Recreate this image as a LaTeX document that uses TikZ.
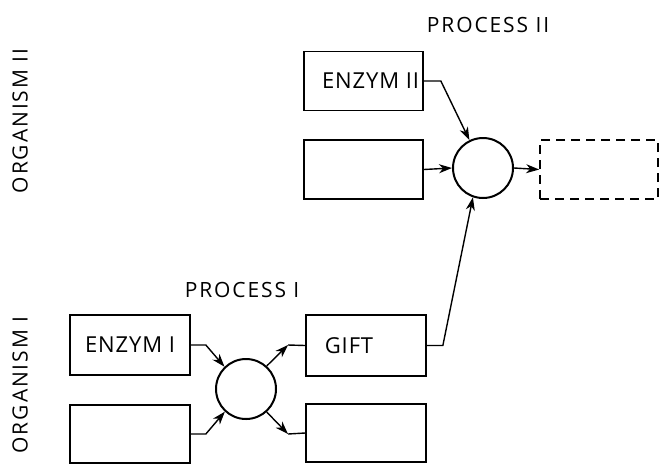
\documentclass[tikz,border=0pt]{standalone}
\usepackage{fontspec}
\setsansfont{Open Sans}
\newfontfamily\widefnt[LetterSpace=9]{Open Sans}
\newfontfamily\midfnt[LetterSpace=4]{Open Sans}
\usetikzlibrary{arrows.meta}
\begin{document}
\begin{tikzpicture}[x=1pt,y=-1pt,
  every node/.style={font=\midfnt\fontsize{22}{24}\selectfont},
  box/.style={draw,line width=1.7pt,inner sep=0pt,minimum width=119pt,minimum height=59pt},
  dbox/.style={box,dashed,dash pattern=on 9pt off 6pt},
  rxn/.style={draw,circle,line width=2pt,inner sep=0pt,minimum size=60pt},
  arr/.style={line width=1.4pt,-{Stealth[length=13pt,width=9pt,inset=4pt]}},
  ln/.style={line width=1.4pt},
  lbl/.style={font=\widefnt\fontsize{21}{23}\selectfont}]
\useasboundingbox (0,0) rectangle (660,464);
% labels
\node[lbl] (p2) at (488,25) {PROCESS II};
\node[lbl] (p1) at (242,290) {PROCESS I};
\node[lbl,rotate=90] (o2) at (20,121) {ORGANISM II};
\node[lbl,rotate=90] (o1) at (20,385) {ORGANISM I};
% process II
\node[box] (e2) at (363.5,81) {\hspace*{14pt}ENZYM II};
\node[box] (b2) at (363.5,169.5) {};
\node[rxn] (c2) at (483,168) {};
\node[dbox,minimum width=118pt] (d2) at (599,169.5) {};
% process I
\node[box,minimum width=120pt,minimum height=60pt] (e1) at (130,345) {ENZYM I};
\node[box,minimum width=120pt,minimum height=58pt] (b1) at (130,434) {};
\node[rxn] (c1) at (246,389) {};
\node[box,minimum width=120pt,minimum height=61pt] (g) at (366,345.5) {\hspace*{-34pt}GIFT};
\node[box,minimum width=120pt,minimum height=58pt] (b3) at (366,433) {};
% corner points
\coordinate (k1) at (288,345);
\coordinate (k2) at (288,434);
% connectors process II
\draw[arr] (e2.east) -- ++(17,0) -- (c2.116);
\draw[arr] (b2.east) -- (c2.west);
\draw[arr] (c2.east) -- (d2.west);
\draw[arr] (g.east) -- ++(16,0) -- (c2.251);
% connectors process I
\draw[arr] (e1.east) -- ++(15,0) -- (c1.134);
\draw[arr] (b1.east) -- ++(15,0) -- (c1.227);
\draw[arr] (c1.48) -- (k1);
\draw[ln] (k1) -- (g.west);
\draw[arr] (c1.-48) -- (k2);
\draw[ln] (k2) -- (b3.west);
\end{tikzpicture}
\end{document}
